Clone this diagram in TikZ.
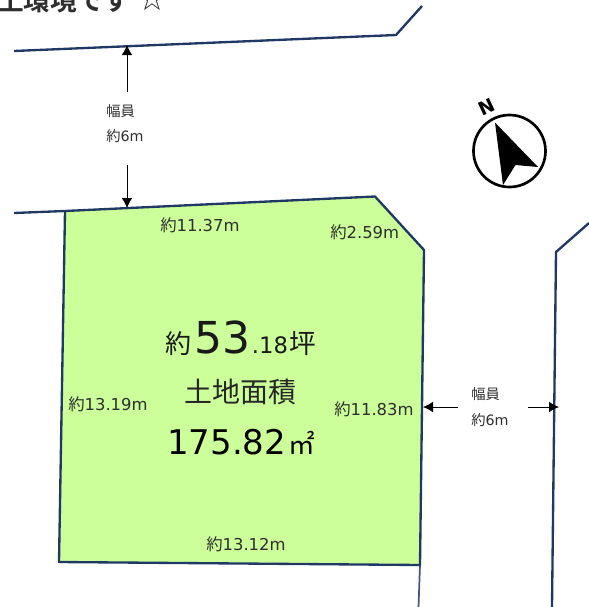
\documentclass[tikz,border=0pt]{standalone}
\usepackage{fontspec}
\setmainfont{DejaVu Sans}
\newfontfamily\cjk{Noto Sans CJK JP}
\newfontfamily\cjkb{Noto Sans CJK JP Bold}
\usetikzlibrary{arrows.meta}
\definecolor{navy}{HTML}{1F3864}
\definecolor{lot}{HTML}{CCFF99}
\definecolor{ink}{HTML}{2E2E2E}
\tikzset{
 road/.style={draw=navy,line width=1.75pt,line join=round},
 dim/.style={black,line width=0.65pt,-{Latex[length=7.5pt,width=8pt]}},
 lbl/.style={inner sep=0pt,text=ink,font=\fontsize{12.3pt}{14pt}\selectfont},
 wlbl/.style={inner sep=0pt,text=ink,font=\fontsize{10.7pt}{12pt}\selectfont},
}
\begin{document}
\begin{tikzpicture}[x=0.75pt,y=-0.75pt]
\useasboundingbox (0,0) rectangle (589,607);
\begin{scope}
\clip (0,0) rectangle (589,607);
% top text
\node[anchor=base west,inner sep=0pt,text=ink,font=\fontsize{20pt}{22pt}\selectfont] (title) at (-3,10) {\cjkb 土環境です\hspace{5pt}\normalfont\fontsize{25pt}{26pt}\selectfont☆};
% roads
\coordinate (ra) at (14,51);
\coordinate (rb) at (396,35);
\coordinate (rc) at (422,6);
\draw[road] (ra) -- (rb) -- (rc);
\coordinate (rd) at (14,213);
\coordinate (re) at (65,211);
\draw[road] (rd) -- (re);
\coordinate (rf) at (589,223);
\coordinate (rg) at (556,252);
\coordinate (rh) at (552,607);
\draw[road] (rf) -- (rg) -- (rh);
\coordinate (ri) at (420,565);
\coordinate (rj) at (418.5,607);
\draw[road,line width=1.3pt,draw opacity=0.85] (ri) -- (rj);
% lot
\draw[road,fill=lot] (65,211) -- (375,196.5) -- (424,250) -- (420,565) -- (59,562) -- cycle;
% width arrows
\coordinate (ta) at (127,92);
\coordinate (tb) at (127,45);
\coordinate (tc) at (127,165);
\coordinate (td) at (127,208);
\draw[dim] (ta) -- (tb);
\draw[dim] (tc) -- (td);
\coordinate (sa) at (458,407);
\coordinate (sb) at (423,407);
\coordinate (sc) at (528,407);
\coordinate (sd) at (559,407);
\draw[dim] (sa) -- (sb);
\draw[dim] (sc) -- (sd);
\node[wlbl,anchor=west] (w1a) at (106,111) {\cjk 幅員};
\node[wlbl,anchor=west] (w1b) at (106,136) {\cjk 約\normalfont 6m};
\node[wlbl,anchor=west] (w2a) at (471,394) {\cjk 幅員};
\node[wlbl,anchor=west] (w2b) at (471,420) {\cjk 約\normalfont 6m};
% lengths
\node[lbl,anchor=west] (l1) at (160,225) {\cjk 約\normalfont 11.37m};
\node[lbl,anchor=west] (l2) at (330,232) {\cjk 約\normalfont 2.59m};
\node[lbl,anchor=west] (l3) at (68,404) {\cjk 約\normalfont 13.19m};
\node[lbl,anchor=west] (l4) at (334,409) {\cjk 約\normalfont 11.83m};
\node[lbl,anchor=west] (l5) at (206,544) {\cjk 約\normalfont 13.12m};
% centre
\node[anchor=base west,inner sep=0pt,text=black!90] (c1) at (165,353) {\fontsize{19.5pt}{20pt}\selectfont\cjk 約\normalfont\hspace{2.5pt}\fontsize{33pt}{36pt}\selectfont 53\fontsize{17pt}{18pt}\selectfont\hspace{1pt}.18\fontsize{20pt}{20pt}\selectfont\cjk\hspace{1pt}坪};
\node[anchor=center,inner sep=0pt,text=black!85,font=\fontsize{21pt}{24pt}\selectfont] (c2) at (240,392) {\cjk 土地面積};
\node[anchor=base west,inner sep=0pt,text=black,font=\fontsize{25.5pt}{28pt}\selectfont] (c3) at (167,454) {175.82\hspace{1.5pt}\fontsize{20pt}{20pt}\selectfont\cjk ㎡};
% compass
\begin{scope}[shift={(509.5,151)}]
\draw[black,line width=2pt] (0,0) circle (36);
\coordinate (na) at (-14.5,-28.5);
\coordinate (nb) at (28.5,16);
\coordinate (nc) at (6,14);
\coordinate (nd) at (-6.5,34);
\fill[black] (na) -- (nb) -- (nc) -- (nd) -- cycle;
\node[rotate=25,inner sep=0pt,font=\fontsize{14pt}{14pt}\selectfont\bfseries] (north) at (-22.5,-44) {N};
\end{scope}
\end{scope}
\end{tikzpicture}
\end{document}
